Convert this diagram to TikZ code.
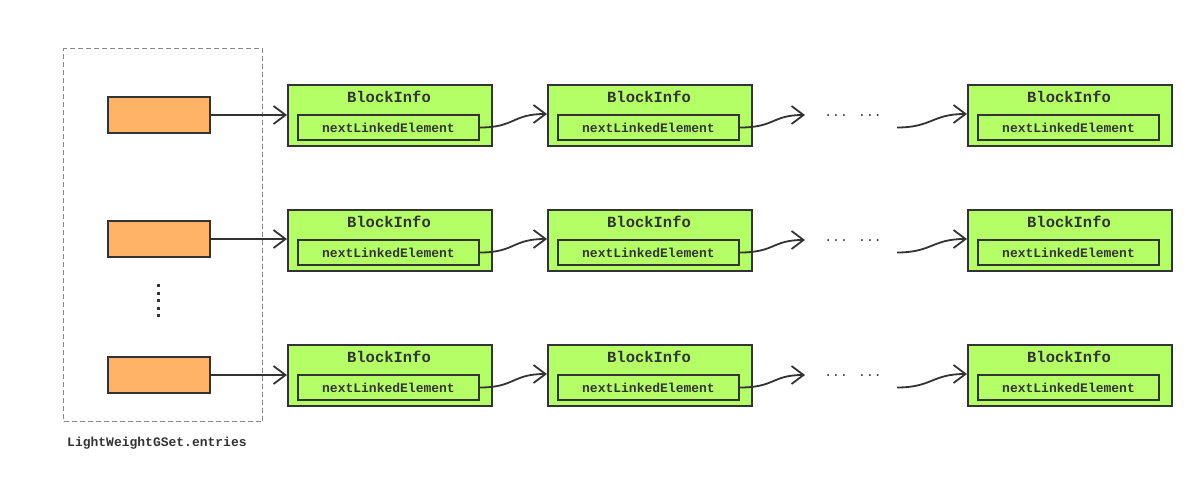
\documentclass[tikz,border=0pt]{standalone}
\usepackage{fontspec}
\newfontfamily\mono{Liberation Mono}
\usetikzlibrary{arrows.meta,calc}
\definecolor{ink}{HTML}{333333}
\definecolor{grn}{HTML}{B5FF66}
\definecolor{org}{HTML}{FFB366}
\definecolor{dash}{HTML}{888888}
\tikzset{
  blockbox/.style={draw=ink, line width=2pt, fill=grn, minimum width=204pt, minimum height=61pt, inner sep=0pt, anchor=north west},
  innerbox/.style={draw=ink, line width=2pt, fill=grn, minimum width=181pt, minimum height=25pt, inner sep=0pt, font=\mono\bfseries\fontsize{13}{13}\selectfont, text=ink},
  titletext/.style={font=\mono\bfseries\fontsize{15.5}{16}\selectfont, text=ink, inner sep=0pt},
  entrybox/.style={draw=ink, line width=2pt, fill=org, minimum width=102pt, minimum height=36pt, inner sep=0pt},
  link/.style={draw=ink, line width=1.8pt, -{Straight Barb[length=12pt,width=18pt,line width=1.8pt]}},
}
\begin{document}
\begin{tikzpicture}[x=1pt,y=-1pt]
\useasboundingbox (0,0) rectangle (1202,490);
\node[draw=dash, dash pattern=on 5pt off 3pt, line width=1.3pt, minimum width=199pt, minimum height=373pt, anchor=north west, inner sep=0pt] (set) at (63,48) {};
\node[font=\mono\bfseries\fontsize{13}{13}\selectfont, text=ink, anchor=west, inner sep=0pt] (setlabel) at (67,443) {LightWeightGSet.entries};
\draw[ink, line width=3pt, dash pattern=on 3pt off 4.5pt] (158,284) -- (158,317);
\foreach \r/\top/\oy in {1/84/115, 2/209/239, 3/344/375}{
  \node[entrybox] (o\r) at (159,\oy) {};
  \foreach \c/\left in {1/287, 2/547, 3/967}{
    \node[blockbox] (b\r\c) at (\left,\top) {};
    \node[titletext] (t\r\c) at (\left+102,\top+13) {BlockInfo};
    \node[innerbox] (n\r\c) at (\left+101.5,\top+43.5) {nextLinkedElement};
  }
  \draw[link] (o\r.east) -- (o\r.east -| b\r1.west);
  \draw[link] (n\r1.east) .. controls ++(35,0) and ($(b\r2.west |- n\r2.north)+(-35,0)$) .. (b\r2.west |- n\r2.north);
  \coordinate (d\r) at (805,\top+31);
  \coordinate (e\r) at (897,\top+43.5);
  \node[font=\mono\fontsize{13}{13}\selectfont, text=ink, inner sep=0pt] (dots\r) at (853,\top+32) {... ...};
  \draw[link] (n\r2.east) .. controls ++(35,0) and ($(d\r)+(-33,0)$) .. (d\r);
  \draw[link] (e\r) .. controls ++(35,0) and ($(b\r3.west |- n\r3.north)+(-35,0)$) .. (b\r3.west |- n\r3.north);
}
\end{tikzpicture}
\end{document}
